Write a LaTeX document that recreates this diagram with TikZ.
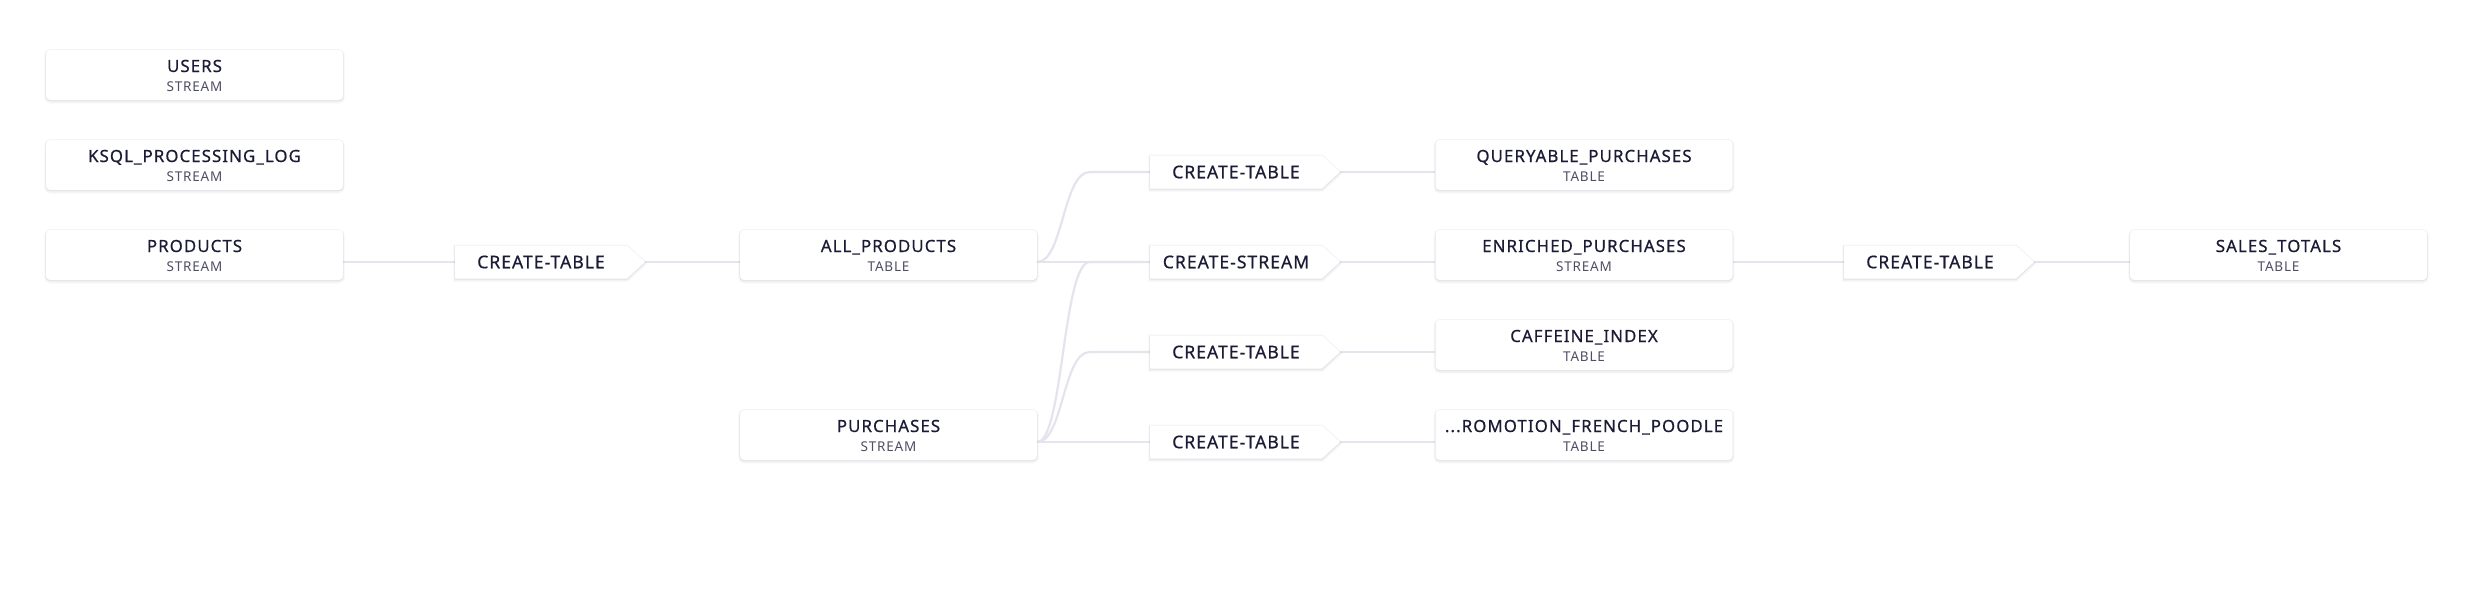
\documentclass[tikz,border=0pt]{standalone}
\usepackage{fontspec}
\setmainfont{Noto Sans}
\newfontfamily\namefam[LetterSpace=6.5,FakeBold=0.6]{Noto Sans}
\newfontfamily\opfam[LetterSpace=6,FakeBold=0.6]{Noto Sans}
\newfontfamily\subfam[LetterSpace=6]{Noto Sans}
\usetikzlibrary{backgrounds}
\definecolor{edgecol}{HTML}{E4E4EE}
\definecolor{namecol}{HTML}{1B1B36}
\definecolor{subcol}{HTML}{4E4E66}
\definecolor{shadowcol}{HTML}{3A3A60}
\tikzset{
  x=1pt,y=-1pt,
  softshadow/.style={
    preaction={draw=shadowcol,line width=4pt,draw opacity=0.025,transform canvas={yshift=-1.5pt}},
    preaction={draw=shadowcol,line width=2pt,draw opacity=0.04,transform canvas={yshift=-1.5pt}},
    preaction={draw=shadowcol,line width=1.6pt,draw opacity=0.045},
    preaction={fill=shadowcol,fill opacity=0.06,transform canvas={yshift=-1pt}}},
  tbox/.style={rectangle,rounded corners=4pt,fill=white,softshadow,minimum width=297pt,minimum height=50pt,inner sep=0pt},
  tname/.style={anchor=base,inner sep=0pt,text=namecol,font=\namefam\fontsize{16.8}{19}\selectfont},
  tsub/.style={anchor=base,inner sep=0pt,text=subcol,font=\subfam\fontsize{13.5}{15}\selectfont},
  opshape/.style={fill=white,softshadow},
  optext/.style={rectangle,minimum width=172pt,minimum height=33pt,inner sep=0pt,text=namecol,font=\opfam\fontsize{17.5}{19}\selectfont},
  edge/.style={draw=edgecol,line width=2.2pt},
}
\newcommand{\tablebox}[5]{%
  \node[tbox] (#1) at (#2,#3) {};
  \node[tname] (#1-n) at (#2,#3-3) {#4};
  \node[tsub] (#1-s) at (#2,#3+16) {#5};
}
\newcommand{\opnode}[4]{%
  \path[opshape] (#2-86,#3-16.5) -- (#2+86,#3-16.5) -- (#2+104,#3) -- (#2+86,#3+16.5) -- (#2-86,#3+16.5) -- cycle;
  \node[optext] (#1) at (#2,#3) {#4};
  \coordinate (#1-tip) at (#2+104,#3);
}
\begin{document}
\begin{tikzpicture}
\useasboundingbox (0,0) rectangle (2478,590);
% column A
\tablebox{users}{194.5}{75}{USERS}{STREAM}
\tablebox{ksql}{194.5}{165}{KSQL\_PROCESSING\_LOG}{STREAM}
\tablebox{products}{194.5}{255}{PRODUCTS}{STREAM}
\opnode{op1}{541}{262}{CREATE-TABLE}
% column B
\tablebox{allp}{888.5}{255}{ALL\_PRODUCTS}{TABLE}
\tablebox{purch}{888.5}{435}{PURCHASES}{STREAM}
\opnode{opa}{1236}{172}{CREATE-TABLE}
\opnode{opb}{1236}{262}{CREATE-STREAM}
\opnode{opc}{1236}{352}{CREATE-TABLE}
\opnode{opd}{1236}{442}{CREATE-TABLE}
% column C
\tablebox{qp}{1584}{165}{QUERYABLE\_PURCHASES}{TABLE}
\tablebox{ep}{1584}{255}{ENRICHED\_PURCHASES}{STREAM}
\tablebox{ci}{1584}{345}{CAFFEINE\_INDEX}{TABLE}
\tablebox{fp}{1584}{435}{...ROMOTION\_FRENCH\_POODLE}{TABLE}
\opnode{op3}{1930}{262}{CREATE-TABLE}
% column D
\tablebox{st}{2278.5}{255}{SALES\_TOTALS}{TABLE}
\begin{pgfonlayer}{background}
\fill[white] (0,0) rectangle (2478,590);
\path[edge] ([yshift=-7pt]products.east) -- (op1.west);
\path[edge] (op1-tip) -- ([yshift=-7pt]allp.west);
\path[edge] ([yshift=-7pt]allp.east) -- (opb.west);
\path[edge] ([yshift=-7pt]allp.east) .. controls ([xshift=26pt,yshift=-7pt]allp.east) and ([xshift=-87pt]opa.west) .. ([xshift=-60pt]opa.west) -- (opa.west);
\path[edge] ([yshift=-7pt]purch.east) .. controls ([xshift=26pt,yshift=-7pt]purch.east) and ([xshift=-87pt]opb.west) .. ([xshift=-60pt]opb.west) -- (opb.west);
\path[edge] ([yshift=-7pt]purch.east) .. controls ([xshift=26pt,yshift=-7pt]purch.east) and ([xshift=-87pt]opc.west) .. ([xshift=-60pt]opc.west) -- (opc.west);
\path[edge] ([yshift=-7pt]purch.east) -- (opd.west);
\path[edge] (opa-tip) -- ([yshift=-7pt]qp.west);
\path[edge] (opb-tip) -- ([yshift=-7pt]ep.west);
\path[edge] (opc-tip) -- ([yshift=-7pt]ci.west);
\path[edge] (opd-tip) -- ([yshift=-7pt]fp.west);
\path[edge] ([yshift=-7pt]ep.east) -- (op3.west);
\path[edge] (op3-tip) -- ([yshift=-7pt]st.west);
\end{pgfonlayer}
\end{tikzpicture}
\end{document}
